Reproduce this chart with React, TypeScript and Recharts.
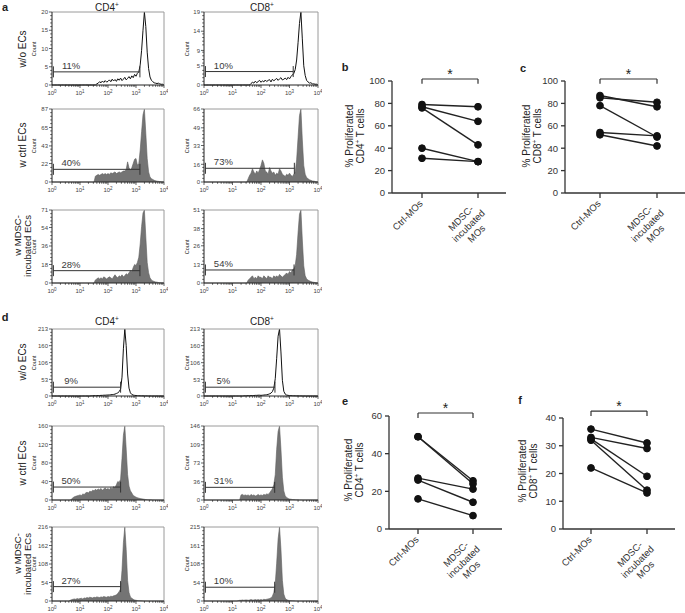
import React from 'react'
import { AreaChart, Area, LineChart, Line, XAxis, YAxis, ReferenceLine, ReferenceDot, Label } from 'recharts'

const FONT = '"Liberation Sans", Arial, Helvetica, sans-serif'
const STEP = 0.05 // histogram bin width in log10 units, first bin at 10^0

// ---- panel a histograms (counts per bin) ----
const aCd4Wo = [
  0, 0, 0, 0, 0, 0, 0, 0, 0, 0,
  0, 0, 0, 0, 0, 0, 0, 0, 0, 0,
  0, 0, 0, 0, 0, 0, 0, 0, 0, 0,
  0, 0, 0.3, 0.5, 0.9, 0.6, 1.1, 0.7, 1.2, 0.8,
  1.0, 1.4, 0.9, 1.6, 1.1, 1.5, 1.0, 1.7, 1.3, 1.9,
  1.2, 1.6, 2.1, 1.4, 1.8, 2.3, 1.7, 2.5, 2.0, 2.9,
  2.4, 3.2, 3.6, 5.5, 9.5, 15, 20, 16, 9, 4.5,
  2.2, 1.3, 0.9, 0.6, 0.5, 0.4, 0.5, 0.3, 0.2, 0.2,
  0,
]
const aCd8Wo = [
  0, 0, 0, 0, 0, 0, 0, 0, 0, 0,
  0, 0, 0, 0, 0, 0, 0, 0, 0, 0,
  0, 0, 0, 0, 0, 0, 0, 0, 0, 0,
  0, 0, 0, 0.4, 0.7, 0.5, 1.0, 0.6, 0.9, 1.2,
  0.7, 1.1, 0.8, 1.3, 0.9, 1.2, 1.4, 0.8, 1.5, 1.1,
  1.4, 1.7, 1.2, 1.6, 1.9, 1.3, 1.5, 1.8, 1.4, 2.0,
  1.6, 2.2, 2.6, 3.0, 4.0, 6.5, 11, 16, 19, 12,
  5, 2.5, 1.2, 0.8, 0.5, 0.6, 0.3, 0.3, 0.2, 0.2,
  0,
]
const aCd4Ctrl = [
  0, 0, 0, 0, 0, 0, 0, 0, 0, 0,
  0, 0, 0, 0, 0, 0, 0, 0, 0, 0,
  0, 0, 0, 0, 0, 0, 0, 0, 0, 0,
  0, 7, 8, 9, 8, 9, 10, 9, 10, 9,
  10, 9, 11, 10, 11, 12, 10, 11, 12, 11,
  12, 13, 13, 15, 24, 17, 14, 17, 22, 27,
  28, 20, 22, 38, 60, 80, 87, 58, 28, 12,
  6, 4, 3, 2, 1.5, 1, 0.8, 0.5, 0.3, 0.2,
  0,
]
const aCd8Ctrl = [
  0, 0, 0, 0, 0, 0, 0, 0, 0, 0,
  0, 0, 0, 0, 0, 0, 0, 0, 0, 0,
  0, 0, 0, 0, 0, 0, 0, 0, 0, 0,
  0, 3, 6, 8, 12, 9, 7, 10, 8, 11,
  15, 20, 17, 10, 9, 7, 13, 10, 8, 9,
  6, 8, 7, 12, 10, 7, 6, 5, 7, 6,
  8, 6, 5, 7, 9, 20, 40, 60, 66, 38,
  15, 7, 4, 3, 2, 1.5, 1, 0.8, 0.5, 0.3,
  0,
]
const aCd4Mdsc = [
  0, 0, 0, 0, 0, 0, 0, 0, 0, 0,
  0, 0, 0, 0, 0, 0, 0, 0, 0, 0,
  0, 0, 0, 0, 0, 0, 0, 0, 0, 0,
  0, 3, 4, 5, 4, 5, 4, 6, 5, 4,
  5, 6, 5, 4, 6, 8, 6, 5, 7, 6,
  8, 6, 7, 9, 8, 10, 12, 11, 15, 18,
  17, 20, 25, 38, 55, 68, 71, 45, 20, 10,
  5, 3, 2, 1.5, 1, 0.8, 0.5, 0.3, 0.2, 0.2,
  0,
]
const aCd8Mdsc = [
  0, 0, 0, 0, 0, 0, 0, 0, 0, 0,
  0, 0, 0, 0, 0, 0, 0, 0, 0, 0,
  0, 0, 0, 0, 0, 0, 0, 0, 0, 0,
  0, 2, 3, 4, 5, 3, 4, 3, 5, 4,
  4, 3, 5, 4, 3, 5, 4, 4, 3, 5,
  4, 5, 4, 6, 5, 4, 5, 6, 7, 6,
  8, 7, 9, 10, 12, 20, 35, 48, 51, 30,
  12, 5, 3, 2, 1.5, 1, 0.7, 0.5, 0.3, 0.2,
  0,
]

// ---- panel d histograms ----
const dCd4Wo = [
  0, 0, 0, 0, 0, 0, 0, 0, 0, 0,
  0, 0, 0, 0, 0, 0, 0, 0, 0, 0,
  0, 0, 0, 0, 0, 0, 0, 0, 0.5, 0.8,
  1, 1, 1.2, 1.5, 1.5, 2, 2, 2.5, 2.5, 3,
  3, 3.5, 4, 4.5, 5, 6, 8, 10, 14, 22,
  60, 150, 213, 160, 70, 25, 10, 5, 3, 2,
  1.5, 1, 0.8, 0.6, 0.5, 0.4, 0.3, 0.2, 0.2, 0.1,
  0.1, 0, 0, 0, 0, 0, 0, 0, 0, 0,
  0,
]
const dCd8Wo = [
  0, 0, 0, 0, 0, 0, 0, 0, 0, 0,
  0, 0, 0, 0, 0, 0, 0, 0, 0, 0,
  0, 0, 0, 0, 0, 0, 0, 0, 0.4, 0.6,
  0.8, 1, 1, 1.2, 1.5, 1.5, 2, 2, 2.5, 2.5,
  2, 2.5, 3, 3.5, 4, 5, 7, 9, 14, 25,
  55, 120, 190, 213, 140, 50, 15, 6, 3, 2,
  1.5, 1, 0.8, 0.6, 0.5, 0.4, 0.3, 0.2, 0.2, 0.1,
  0.1, 0, 0, 0, 0, 0, 0, 0, 0, 0,
  0,
]
const dCd4Ctrl = [
  0, 0, 0, 0, 0, 0, 0, 0, 0, 0,
  0, 0, 0, 0, 2, 5, 7, 8, 9, 10,
  11, 10, 13, 12, 15, 17, 15, 19, 18, 21,
  20, 23, 21, 24, 22, 25, 21, 24, 26, 23,
  25, 22, 27, 24, 29, 27, 33, 40, 38, 45,
  90, 140, 160, 110, 55, 30, 20, 15, 10, 8,
  6, 5, 4, 3, 2.5, 2, 1.5, 1, 0.8, 0.5,
  0.4, 0.3, 0.2, 0.2, 0.1, 0, 0, 0, 0, 0,
  0,
]
const dCd8Ctrl = [
  0, 0, 0, 0, 0, 0, 0, 0, 0, 0,
  0, 0, 0, 0, 0, 0, 0, 0, 0, 0,
  0, 0, 0, 0, 0, 0, 10, 11, 9, 10,
  9, 10, 8, 11, 9, 10, 8, 9, 11, 9,
  10, 9, 11, 10, 12, 11, 14, 18, 22, 30,
  50, 100, 135, 146, 100, 45, 18, 8, 5, 3,
  2, 1.5, 1, 0.8, 0.5, 0.4, 0.3, 0.2, 0.1, 0.1,
  0, 0, 0, 0, 0, 0, 0, 0, 0, 0,
  0,
]
const dCd4Mdsc = [
  0, 0, 0, 0, 0, 0, 0, 0, 0, 0,
  0, 0, 0, 2, 4, 5, 6, 5, 7, 6,
  7, 8, 6, 9, 8, 10, 9, 11, 10, 9,
  11, 10, 12, 11, 10, 12, 11, 13, 12, 11,
  13, 12, 14, 13, 15, 16, 18, 22, 28, 35,
  90, 170, 216, 150, 60, 25, 12, 8, 5, 3,
  2, 1.5, 1, 0.8, 0.5, 0.3, 0.2, 0.1, 0, 0,
  0, 0, 0, 0, 0, 0, 0, 0, 0, 0,
  0,
]
const dCd8Mdsc = [
  0, 0, 0, 0, 0, 0, 0, 0, 0, 0,
  0, 0, 0, 0, 0, 0, 0, 0, 0, 0,
  0, 0, 0, 0, 1, 2, 2, 3, 2, 3,
  3, 2, 3, 4, 3, 3, 4, 3, 4, 3,
  4, 3, 5, 4, 5, 6, 7, 9, 14, 25,
  50, 110, 180, 215, 150, 60, 20, 8, 4, 2,
  1.5, 1, 0.8, 0.5, 0.3, 0.2, 0.1, 0, 0, 0,
  0, 0, 0, 0, 0, 0, 0, 0, 0, 0,
  0,
]

// count axis labels, rows: w/o, ctrl, MDSC
const aCd4Ticks = [[0, 5, 10, 15, 20], [0, 22, 43, 65, 87], [0, 18, 36, 54, 71]]
const aCd8Ticks = [[0, 5, 9, 14, 19], [0, 16, 33, 49, 66], [0, 13, 26, 38, 51]]
const dCd4Ticks = [[0, 53, 106, 160, 213], [0, 40, 80, 120, 160], [0, 54, 108, 162, 216]]
const dCd8Ticks = [[0, 53, 106, 160, 213], [0, 36, 73, 109, 146], [0, 54, 108, 161, 215]]

// gates: level (count units), right end (log10), label
const aCd4Gate = [3.6, 15.1, 12]
const aCd8Gate = [3.5, 12.4, 9.1]
const dCd4Gate = [28, 28, 42]
const dCd8Gate = [28, 25, 40]
const aGateEnd = [3.14, 3.14, 3.14]
const aCd8GateEnd = [3.13, 3.17, 3.16]
const dGateEnd = [2.45, 2.45, 2.45]
const dCd8GateEnd = [2.49, 2.48, 2.48]
const aCd4Pct = ['11%', '40%', '28%']
const aCd8Pct = ['10%', '73%', '54%']
const dCd4Pct = ['9%', '50%', '27%']
const dCd8Pct = ['5%', '31%', '10%']

// ---- paired panels ----
const groups = ['Ctrl-MOs', 'MDSC-\nincubated\nMOs']
const bCtrl = [79, 77, 76, 40, 31]
const bMdsc = [77, 64, 43, 28, 28]
const cCtrl = [87, 85, 78, 54, 52]
const cMdsc = [77, 81, 50, 51, 42]
const eCtrl = [49, 49, 27, 26, 16]
const eMdsc = [25.6, 24, 21.2, 14.2, 7.1]
const fCtrl = [36, 33, 32.5, 32, 22]
const fMdsc = [31, 29, 19, 14, 13]

const xMajor = [0, 1, 2, 3, 4]
const xTicks: number[] = [...xMajor]
for (let d = 0; d < 4; d++) for (let k = 2; k < 10; k++) xTicks.push(d + Math.log10(k))
xTicks.sort((a, b) => a - b)

function LogTick(props: any) {
  const { x, y, payload } = props
  const v = payload.value
  const major = Math.abs(v - Math.round(v)) < 1e-6
  return (
    <g>
      <line x1={x} y1={y} x2={x} y2={y + (major ? 3 : 1.8)} stroke="#222" strokeWidth={0.7} />
      {major && (
        <text x={x} y={y + 10} textAnchor="middle" fontSize={6} fill="#444" fontFamily={FONT}>
          10<tspan dy={-2.5} fontSize={4.5}>{Math.round(v)}</tspan>
        </text>
      )}
    </g>
  )
}

function CountTick(props: any) {
  const { x, y, payload, labels } = props
  const major = labels.includes(payload.value)
  return (
    <g>
      <line x1={x} y1={y} x2={x - (major ? 3 : 1.8)} y2={y} stroke="#222" strokeWidth={0.7} />
      {major && (
        <text x={x - 4} y={y + 2.2} textAnchor="end" fontSize={6} fill="#444" fontFamily={FONT}>
          {payload.value}
        </text>
      )}
    </g>
  )
}

type HistProps = {
  left: number
  top: number
  w: number
  h: number
  counts: number[]
  ticks: number[]
  filled: boolean
  gate: number
  gateEnd: number
  pct: string
}

function Hist({ left, top, w, h, counts, ticks, filled, gate, gateEnd, pct }: HistProps) {
  const max = ticks[ticks.length - 1]
  const data = counts.map((y, i) => ({ x: Math.round(i * STEP * 100) / 100, y }))
  const yTicks: number[] = []
  for (let k = 0; k <= 20; k++) {
    if (k % 5 === 0) yTicks.push(ticks[k / 5])
    else yTicks.push((max * k) / 20)
  }
  const cap = (5.5 / h) * max
  const g0 = 0.05
  return (
    <div style={{ position: 'absolute', left: left - 25, top: top - 4 }}>
      <AreaChart width={w + 29} height={h + 20} data={data} margin={{ top: 4, right: 4, bottom: 0, left: 0 }}>
        <XAxis
          type="number"
          dataKey="x"
          domain={[0, 4]}
          ticks={xTicks}
          interval={0}
          height={16}
          tickSize={0}
          tickMargin={0}
          tickLine={false}
          axisLine={{ stroke: '#222', strokeWidth: 1 }}
          tick={(p: any) => <LogTick {...p} />}
        />
        <YAxis
          type="number"
          domain={[0, max]}
          ticks={yTicks}
          interval={0}
          width={25}
          tickSize={0}
          tickMargin={0}
          tickLine={false}
          axisLine={{ stroke: '#222', strokeWidth: 1 }}
          tick={(p: any) => <CountTick {...p} labels={ticks} />}
        />
        <ReferenceLine y={max} stroke="#9a9a9a" strokeWidth={1} />
        <ReferenceLine x={4} stroke="#9a9a9a" strokeWidth={1} />
        <Area
          type="linear"
          dataKey="y"
          stroke={filled ? '#5e5e5e' : '#111'}
          strokeWidth={filled ? 0.6 : 1}
          fill={filled ? '#747474' : 'none'}
          fillOpacity={1}
          dot={false}
          activeDot={false}
          isAnimationActive={false}
        />
        <ReferenceLine segment={[{ x: g0, y: gate }, { x: gateEnd, y: gate }]} stroke="#333" strokeWidth={1} />
        <ReferenceLine segment={[{ x: g0, y: gate - cap }, { x: g0, y: gate + cap }]} stroke="#333" strokeWidth={1} />
        <ReferenceLine segment={[{ x: gateEnd, y: gate - cap }, { x: gateEnd, y: gate + cap }]} stroke="#333" strokeWidth={1} />
        <ReferenceDot
          x={0.68}
          y={gate}
          r={0}
          shape={(p: any) => (
            <text x={p.cx} y={p.cy - 3} textAnchor="middle" fontSize={9.5} fill="#3a3a3a" fontFamily={FONT}>
              {pct}
            </text>
          )}
        />
      </AreaChart>
    </div>
  )
}

function GroupTick(props: any) {
  const { x, y, payload } = props
  const lines = String(payload.value).split('\n')
  return (
    <g transform={`translate(${x},${y}) rotate(-45)`}>
      {lines.length === 1 ? (
        <text x={-2} y={4} textAnchor="end" fontSize={9.5} fill="#333" fontFamily={FONT}>
          {lines[0]}
        </text>
      ) : (
        lines.map((l, i) => (
          <text key={i} x={-25} y={4 + i * 11} textAnchor="middle" fontSize={9.5} fill="#333" fontFamily={FONT}>
            {l}
          </text>
        ))
      )}
    </g>
  )
}

type PairedProps = {
  left: number
  top: number
  w: number
  h: number
  ctrl: number[]
  mdsc: number[]
  yTicks: number[]
  pad: { left: number; right: number }
  bracket: number
  capTo: number
}

function Paired({ left, top, w, h, ctrl, mdsc, yTicks, pad, bracket, capTo }: PairedProps) {
  const data = groups.map((g, gi) => {
    const row: Record<string, any> = { g }
    ;(gi === 0 ? ctrl : mdsc).forEach((v, i) => {
      row['p' + i] = v
    })
    return row
  })
  const ymax = yTicks[yTicks.length - 1]
  return (
    <div style={{ position: 'absolute', left: left - 32, top: top - 24 }}>
      <LineChart width={w + 36} height={h + 24 + 60} data={data} margin={{ top: 24, right: 4, bottom: 0, left: 0 }}>
        <XAxis
          dataKey="g"
          type="category"
          padding={pad}
          height={60}
          interval={0}
          tickSize={5}
          tickMargin={2}
          axisLine={{ stroke: '#333', strokeWidth: 1.3 }}
          tickLine={{ stroke: '#333', strokeWidth: 1.3 }}
          tick={(p: any) => <GroupTick {...p} />}
        />
        <YAxis
          type="number"
          domain={[0, ymax]}
          ticks={yTicks}
          interval={0}
          width={32}
          tickSize={4}
          tickMargin={3}
          axisLine={{ stroke: '#333', strokeWidth: 1.3 }}
          tickLine={{ stroke: '#333', strokeWidth: 1.3 }}
          tick={{ fontSize: 9.5, fill: '#333', fontFamily: FONT }}
        />
        <ReferenceLine
          segment={[{ x: groups[0], y: bracket }, { x: groups[1], y: bracket }]}
          stroke="#333"
          strokeWidth={1.2}
          ifOverflow="visible"
        >
          <Label value="*" position="top" offset={0} fill="#222" stroke="none" fontSize={14} fontFamily={FONT} />
        </ReferenceLine>
        <ReferenceLine segment={[{ x: groups[0], y: bracket }, { x: groups[0], y: capTo }]} stroke="#333" strokeWidth={1.2} ifOverflow="visible" />
        <ReferenceLine segment={[{ x: groups[1], y: bracket }, { x: groups[1], y: capTo }]} stroke="#333" strokeWidth={1.2} ifOverflow="visible" />
        {ctrl.map((_, i) => (
          <Line
            key={i}
            dataKey={'p' + i}
            type="linear"
            stroke="#222"
            strokeWidth={1.4}
            dot={{ r: 3.4, fill: '#111', stroke: '#111', strokeWidth: 1 }}
            activeDot={false}
            isAnimationActive={false}
          />
        ))}
      </LineChart>
    </div>
  )
}

function Txt({ x, y, size = 10, rot = 0, bold = false, align = 'center', lh = 1.1, children }: any) {
  return (
    <div
      style={{
        position: 'absolute',
        left: x,
        top: y,
        transform: `translate(-50%, -50%) rotate(${rot}deg)`,
        fontSize: size,
        fontWeight: bold ? 700 : 400,
        whiteSpace: 'nowrap',
        lineHeight: lh,
        textAlign: align,
        color: '#222',
      }}
    >
      {children}
    </div>
  )
}

const Sup = ({ children }: any) => (
  <span style={{ fontSize: '0.65em', position: 'relative', top: '-0.55em' }}>{children}</span>
)

const aRows = [
  { top: 12, h: 73 },
  { top: 109, h: 73 },
  { top: 210, h: 73 },
]
const dRows = [
  { top: 329, h: 67 },
  { top: 426, h: 74 },
  { top: 527, h: 74 },
]

export default function App() {
  const aCd4 = [aCd4Wo, aCd4Ctrl, aCd4Mdsc]
  const aCd8 = [aCd8Wo, aCd8Ctrl, aCd8Mdsc]
  const dCd4 = [dCd4Wo, dCd4Ctrl, dCd4Mdsc]
  const dCd8 = [dCd8Wo, dCd8Ctrl, dCd8Mdsc]
  return (
    <div
      style={{
        position: 'absolute',
        left: 0,
        top: 0,
        width: 685,
        height: 613,
        overflow: 'hidden',
        background: '#fff',
        fontFamily: FONT,
      }}
    >
      {aRows.map((r, i) => (
        <React.Fragment key={'a' + i}>
          <Hist left={52} top={r.top} w={112} h={r.h} counts={aCd4[i]} ticks={aCd4Ticks[i]} filled={i > 0} gate={aCd4Gate[i]} gateEnd={aGateEnd[i]} pct={aCd4Pct[i]} />
          <Hist left={204} top={r.top} w={114} h={r.h} counts={aCd8[i]} ticks={aCd8Ticks[i]} filled={i > 0} gate={aCd8Gate[i]} gateEnd={aCd8GateEnd[i]} pct={aCd8Pct[i]} />
          <Txt x={34} y={r.top + r.h / 2} size={5.5} rot={-90}>Count</Txt>
          <Txt x={187} y={r.top + r.h / 2} size={5.5} rot={-90}>Count</Txt>
        </React.Fragment>
      ))}
      {dRows.map((r, i) => (
        <React.Fragment key={'d' + i}>
          <Hist left={52} top={r.top} w={112} h={r.h} counts={dCd4[i]} ticks={dCd4Ticks[i]} filled={i > 0} gate={dCd4Gate[i]} gateEnd={dGateEnd[i]} pct={dCd4Pct[i]} />
          <Hist left={204} top={r.top} w={114} h={r.h} counts={dCd8[i]} ticks={dCd8Ticks[i]} filled={i > 0} gate={dCd8Gate[i]} gateEnd={dCd8GateEnd[i]} pct={dCd8Pct[i]} />
          <Txt x={34} y={r.top + r.h / 2} size={5.5} rot={-90}>Count</Txt>
          <Txt x={187} y={r.top + r.h / 2} size={5.5} rot={-90}>Count</Txt>
        </React.Fragment>
      ))}

      {/* panel letters */}
      <Txt x={5} y={7} size={11} bold>a</Txt>
      <Txt x={345} y={67} size={11} bold>b</Txt>
      <Txt x={523} y={68} size={11} bold>c</Txt>
      <Txt x={5} y={317} size={11} bold>d</Txt>
      <Txt x={345} y={401} size={11} bold>e</Txt>
      <Txt x={520} y={400} size={11} bold>f</Txt>

      {/* column headers */}
      <Txt x={107} y={7} size={10}>CD4<Sup>+</Sup></Txt>
      <Txt x={262} y={7} size={10}>CD8<Sup>+</Sup></Txt>
      <Txt x={107} y={321} size={10}>CD4<Sup>+</Sup></Txt>
      <Txt x={262} y={321} size={10}>CD8<Sup>+</Sup></Txt>

      {/* row labels */}
      <Txt x={22} y={49} size={10} rot={-90}>w/o ECs</Txt>
      <Txt x={22} y={145} size={10} rot={-90}>w ctrl ECs</Txt>
      <Txt x={23} y={246} size={9.5} lh={1.05} rot={-90} align="right">w MDSC-<br />incubated ECs</Txt>
      <Txt x={22} y={362} size={10} rot={-90}>w/o ECs</Txt>
      <Txt x={22} y={463} size={10} rot={-90}>w ctrl ECs</Txt>
      <Txt x={23} y={564} size={9.5} lh={1.05} rot={-90} align="right">w MDSC-<br />incubated ECs</Txt>

      {/* paired panels */}
      <Paired left={392} top={81} w={114} h={112} ctrl={bCtrl} mdsc={bMdsc} yTicks={[0, 20, 40, 60, 80, 100]} pad={{ left: 30, right: 28 }} bracket={101.8} capTo={97.5} />
      <Paired left={565} top={81} w={121} h={112} ctrl={cCtrl} mdsc={cMdsc} yTicks={[0, 20, 40, 60, 80, 100]} pad={{ left: 35, right: 29 }} bracket={101.8} capTo={97.5} />
      <Paired left={389} top={416} w={113} h={113} ctrl={eCtrl} mdsc={eMdsc} yTicks={[0, 20, 40, 60]} pad={{ left: 29, right: 29 }} bracket={61.6} capTo={58.9} />
      <Paired left={563} top={418} w={112} h={111} ctrl={fCtrl} mdsc={fMdsc} yTicks={[0, 10, 20, 30, 40]} pad={{ left: 28, right: 28 }} bracket={42.5} capTo={40.7} />

      <Txt x={355} y={136} size={10} rot={-90}>% Proliferated<br />CD4<Sup>+</Sup> T cells</Txt>
      <Txt x={532} y={136} size={10} rot={-90}>% Proliferated<br />CD8<Sup>+</Sup> T cells</Txt>
      <Txt x={354} y={470} size={10} rot={-90}>% Proliferated<br />CD4<Sup>+</Sup> T cells</Txt>
      <Txt x={528} y={471} size={10} rot={-90}>% Proliferated<br />CD8<Sup>+</Sup> T cells</Txt>
    </div>
  )
}
